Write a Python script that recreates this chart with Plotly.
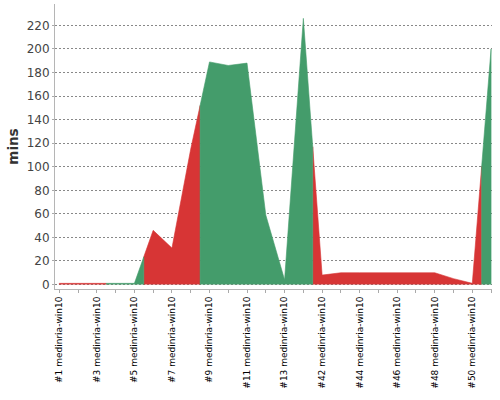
import plotly.graph_objects as go

builds = ["#1", "#2", "#3", "#4", "#5", "#6", "#7", "#8", "#9", "#10", "#11", "#12",
          "#13", "#14", "#42", "#43", "#44", "#45", "#46", "#47", "#48", "#49", "#50", "#51"]
node = "medinria-win10"
durations = [1, 1, 1, 1, 1, 46, 31, 115, 189, 186, 188, 59,
             4, 226, 8, 10, 10, 10, 10, 10, 10, 5, 1, 200]
status = ["failed", "failed", "failed", "success", "success", "failed", "failed", "failed",
          "success", "success", "success", "success", "success", "success",
          "failed", "failed", "failed", "failed", "failed", "failed", "failed", "failed",
          "failed", "success"]

colors = {"success": "#449c6b", "failed": "#d73535"}
labels = [f"{b} {node}" for b in builds]
n = len(durations)
idx = list(range(n))

# stacked-area style: each category spans half-way to its neighbours,
# meeting them at the mean of the two values
def run_polygon(a, b):
    if a == 0:
        lx, ly = 0, durations[0]
    else:
        lx, ly = a - 0.5, (durations[a - 1] + durations[a]) / 2
    if b == n - 1:
        rx, ry = n - 1, durations[-1]
    else:
        rx, ry = b + 0.5, (durations[b] + durations[b + 1]) / 2
    xs = [lx, lx] + idx[a:b + 1] + [rx, rx]
    ys = [0, ly] + durations[a:b + 1] + [ry, 0]
    return xs, ys

traces = {"success": ([], []), "failed": ([], [])}
start = 0
for i in range(1, n + 1):
    if i == n or status[i] != status[start]:
        xs, ys = run_polygon(start, i - 1)
        tx, ty = traces[status[start]]
        if tx:
            tx.append(None)
            ty.append(None)
        tx.extend(xs)
        ty.extend(ys)
        start = i

fig = go.Figure()
for key in ["failed", "success"]:
    tx, ty = traces[key]
    fig.add_trace(go.Scatter(x=tx, y=ty, mode="lines", fill="toself",
                             fillcolor=colors[key], line=dict(width=0.6, color=colors[key]),
                             hoverinfo="skip", showlegend=False))

ticktext = [lab if i % 2 == 0 else "" for i, lab in enumerate(labels)]

fig.update_layout(
    width=500, height=400,
    margin=dict(l=55, r=8, t=4, b=111),
    paper_bgcolor="white", plot_bgcolor="white",
    font=dict(family="DejaVu Sans"),
    xaxis=dict(
        range=[-0.23, n - 1 + 0.05],
        tickmode="array", tickvals=idx, ticktext=ticktext,
        tickangle=-90, tickfont=dict(size=9, color="#000000"),
        ticks="outside", ticklen=3, tickcolor="#aaaaaa",
        showline=True, linecolor="#b5b5b5", linewidth=1,
        showgrid=False, zeroline=False, automargin=False,
    ),
    yaxis=dict(
        range=[-3.8, 238.2],
        tickmode="array", tickvals=list(range(0, 221, 20)),
        tickfont=dict(size=12, color="#444444"),
        ticks="outside", ticklen=2, tickcolor="#aaaaaa",
        showline=True, linecolor="#b5b5b5", linewidth=1,
        showgrid=True, gridcolor="#888888", gridwidth=1, griddash="2px,2px",
        zeroline=False, automargin=False,
        title=dict(text="<b>mins</b>", font=dict(size=13.5, color="#333333"), standoff=4),
    ),
)

fig.write_html("out.html", config={"displayModeBar": False},
               post_script="document.body.style.margin='0';")
